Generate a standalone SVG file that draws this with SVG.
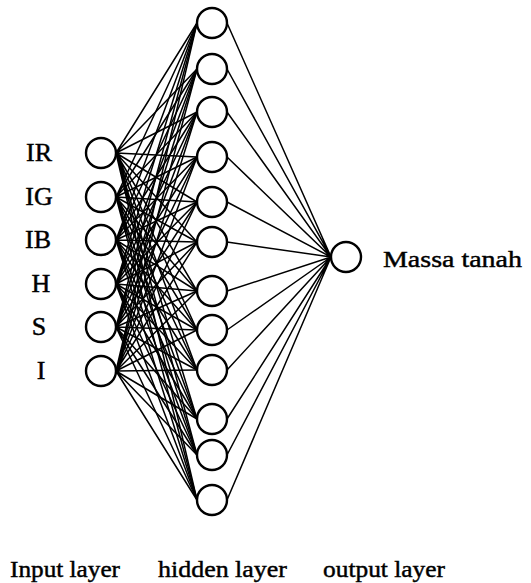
<svg xmlns="http://www.w3.org/2000/svg" width="531" height="583" viewBox="0 0 531 583">
<style>
.n{fill:#fff;stroke:#000;stroke-width:2.4}
.c{fill:none;stroke:#000;stroke-width:1.5}
.t{font-family:"Liberation Serif","Times New Roman",serif;font-size:24px;fill:#000;stroke:#000;stroke-width:0.45}
.i{font-size:26px}
</style>
<rect width="531" height="583" fill="#fff"/>
<g id="connectors">
<path class="c" d="M116 153L197 23M116 153L197 69M116 153L197 112M116 153L197 157M116 153L197 202M116 153L197 242M116 153L197 291M116 153L197 330M116 153L197 370M116 153L197 419M116 153L197 455M116 153L197 500"/>
<path class="c" d="M116 197L197 23M116 197L197 69M116 197L197 112M116 197L197 157M116 197L197 202M116 197L197 242M116 197L197 291M116 197L197 330M116 197L197 370M116 197L197 419M116 197L197 455M116 197L197 500"/>
<path class="c" d="M116 240L197 23M116 240L197 69M116 240L197 112M116 240L197 157M116 240L197 202M116 240L197 242M116 240L197 291M116 240L197 330M116 240L197 370M116 240L197 419M116 240L197 455M116 240L197 500"/>
<path class="c" d="M116 284L197 23M116 284L197 69M116 284L197 112M116 284L197 157M116 284L197 202M116 284L197 242M116 284L197 291M116 284L197 330M116 284L197 370M116 284L197 419M116 284L197 455M116 284L197 500"/>
<path class="c" d="M116 327L197 23M116 327L197 69M116 327L197 112M116 327L197 157M116 327L197 202M116 327L197 242M116 327L197 291M116 327L197 330M116 327L197 370M116 327L197 419M116 327L197 455M116 327L197 500"/>
<path class="c" d="M116 371L197 23M116 371L197 69M116 371L197 112M116 371L197 157M116 371L197 202M116 371L197 242M116 371L197 291M116 371L197 330M116 371L197 370M116 371L197 419M116 371L197 455M116 371L197 500"/>
<path class="c" d="M227 23L331 257M227 69L331 257M227 112L331 257M227 157L331 257M227 202L331 257M227 242L331 257M227 291L331 257M227 330L331 257M227 370L331 257M227 419L331 257M227 455L331 257M227 500L331 257"/>
</g>
<g id="input-IR"><circle class="n" cx="101" cy="153" r="15"/><text class="t i" x="39" y="161" text-anchor="middle">IR</text></g>
<g id="input-IG"><circle class="n" cx="101" cy="197" r="15"/><text class="t i" x="39" y="205" text-anchor="middle">IG</text></g>
<g id="input-IB"><circle class="n" cx="101" cy="240" r="15"/><text class="t i" x="38" y="248" text-anchor="middle">IB</text></g>
<g id="input-H"><circle class="n" cx="101" cy="284" r="15"/><text class="t i" x="41" y="292" text-anchor="middle">H</text></g>
<g id="input-S"><circle class="n" cx="101" cy="327" r="15"/><text class="t i" x="39" y="335" text-anchor="middle">S</text></g>
<g id="input-I"><circle class="n" cx="101" cy="371" r="15"/><text class="t i" x="41" y="379" text-anchor="middle">I</text></g>
<g id="hidden-1"><circle class="n" cx="212" cy="23" r="15"/></g>
<g id="hidden-2"><circle class="n" cx="212" cy="69" r="15"/></g>
<g id="hidden-3"><circle class="n" cx="212" cy="112" r="15"/></g>
<g id="hidden-4"><circle class="n" cx="212" cy="157" r="15"/></g>
<g id="hidden-5"><circle class="n" cx="212" cy="202" r="15"/></g>
<g id="hidden-6"><circle class="n" cx="212" cy="242" r="15"/></g>
<g id="hidden-7"><circle class="n" cx="212" cy="291" r="15"/></g>
<g id="hidden-8"><circle class="n" cx="212" cy="330" r="15"/></g>
<g id="hidden-9"><circle class="n" cx="212" cy="370" r="15"/></g>
<g id="hidden-10"><circle class="n" cx="212" cy="419" r="15"/></g>
<g id="hidden-11"><circle class="n" cx="212" cy="455" r="15"/></g>
<g id="hidden-12"><circle class="n" cx="212" cy="500" r="15"/></g>
<g id="output"><circle class="n" cx="346" cy="257" r="15"/><text class="t" x="383" y="267" textLength="139" lengthAdjust="spacingAndGlyphs">Massa tanah</text></g>
<g id="labels">
<text class="t" x="10" y="577" textLength="110" lengthAdjust="spacingAndGlyphs">Input layer</text>
<text class="t" x="158" y="577" textLength="129" lengthAdjust="spacingAndGlyphs">hidden layer</text>
<text class="t" x="323" y="577" textLength="122" lengthAdjust="spacingAndGlyphs">output layer</text>
</g>
</svg>
